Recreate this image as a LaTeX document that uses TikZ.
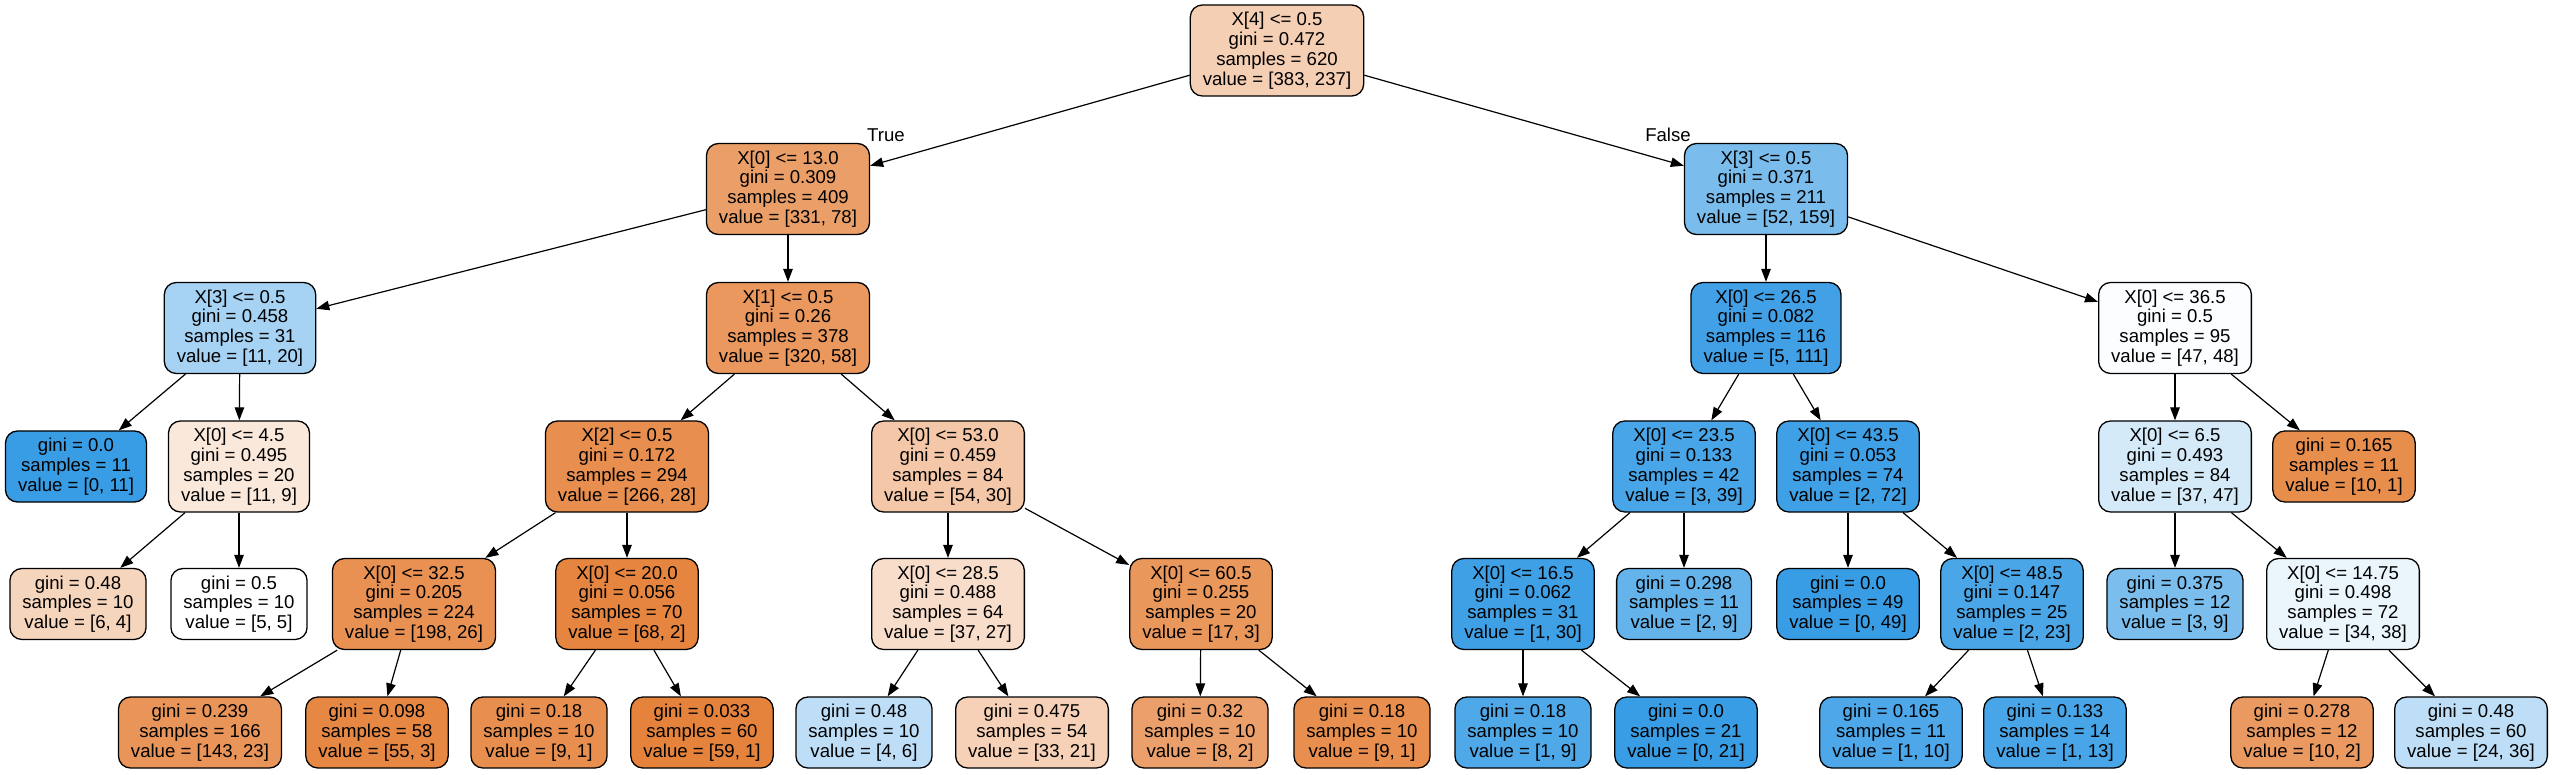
\documentclass[tikz,border=0pt]{standalone}
\usepackage{fontspec}
\setmainfont{Liberation Sans}
\usetikzlibrary{arrows.meta}
\definecolor{cO}{RGB}{229,129,57}
\definecolor{cB}{RGB}{57,157,229}
\tikzset{
  tbox/.style={draw=black, line width=1.3pt, rounded corners=12pt, align=center,
    inner xsep=12.5pt, inner ysep=2pt,
    font=\fontsize{18.6pt}{19.8pt}\selectfont},
  split/.style={tbox, minimum height=91pt},
  leaf/.style={tbox, minimum height=71pt},
  edgearrow/.style={draw=black, line width=1.2pt, -{Triangle[length=13pt,width=9.5pt]}},
  elabel/.style={font=\fontsize{18.6pt}{19.8pt}\selectfont, inner sep=0pt}
}
\begin{document}
\begin{tikzpicture}[x=1pt, y=-1pt]
\useasboundingbox[fill=white] (0,0) rectangle (2552,775);
% level 0
\node[split, fill=cO!38.1!white] (n0) at (1277,50.5) {X[4] <= 0.5\\gini = 0.472\\samples = 620\\value = [383, 237]};
% level 1
\node[split, fill=cO!76.4!white] (n1) at (788,189) {X[0] <= 13.0\\gini = 0.309\\samples = 409\\value = [331, 78]};
\node[split, fill=cB!67.3!white] (n2) at (1766,189) {X[3] <= 0.5\\gini = 0.371\\samples = 211\\value = [52, 159]};
% level 2
\node[split, fill=cB!45!white] (n3) at (240,328) {X[3] <= 0.5\\gini = 0.458\\samples = 31\\value = [11, 20]};
\node[split, fill=cO!81.9!white] (n4) at (788,328) {X[1] <= 0.5\\gini = 0.26\\samples = 378\\value = [320, 58]};
\node[split, fill=cB!95.5!white] (n5) at (1766,328) {X[0] <= 26.5\\gini = 0.082\\samples = 116\\value = [5, 111]};
\node[split, fill=cB!2.1!white] (n6) at (2175,328) {X[0] <= 36.5\\gini = 0.5\\samples = 95\\value = [47, 48]};
% level 3
\node[leaf, fill=cB] (n7) at (76,466.5) {gini = 0.0\\samples = 11\\value = [0, 11]};
\node[split, fill=cO!18.2!white] (n8) at (239,466.5) {X[0] <= 4.5\\gini = 0.495\\samples = 20\\value = [11, 9]};
\node[split, fill=cO!89.5!white] (n9) at (627,466.5) {X[2] <= 0.5\\gini = 0.172\\samples = 294\\value = [266, 28]};
\node[split, fill=cO!44.4!white] (n10) at (948,466.5) {X[0] <= 53.0\\gini = 0.459\\samples = 84\\value = [54, 30]};
\node[split, fill=cB!92.3!white] (n11) at (1684,466.5) {X[0] <= 23.5\\gini = 0.133\\samples = 42\\value = [3, 39]};
\node[split, fill=cB!97.2!white] (n12) at (1848,466.5) {X[0] <= 43.5\\gini = 0.053\\samples = 74\\value = [2, 72]};
\node[split, fill=cB!21.3!white] (n13) at (2175,466.5) {X[0] <= 6.5\\gini = 0.493\\samples = 84\\value = [37, 47]};
\node[leaf, fill=cO!90!white] (n14) at (2344,466.5) {gini = 0.165\\samples = 11\\value = [10, 1]};
% level 4
\node[leaf, fill=cO!33.3!white] (n15) at (78,604) {gini = 0.48\\samples = 10\\value = [6, 4]};
\node[leaf, fill=white] (n16) at (239,604) {gini = 0.5\\samples = 10\\value = [5, 5]};
\node[split, fill=cO!86.9!white] (n17) at (414,604) {X[0] <= 32.5\\gini = 0.205\\samples = 224\\value = [198, 26]};
\node[split, fill=cO!97.1!white] (n18) at (627,604) {X[0] <= 20.0\\gini = 0.056\\samples = 70\\value = [68, 2]};
\node[split, fill=cO!27!white] (n19) at (948,604) {X[0] <= 28.5\\gini = 0.488\\samples = 64\\value = [37, 27]};
\node[split, fill=cO!82.4!white] (n20) at (1201,604) {X[0] <= 60.5\\gini = 0.255\\samples = 20\\value = [17, 3]};
\node[split, fill=cB!96.7!white] (n21) at (1523,604) {X[0] <= 16.5\\gini = 0.062\\samples = 31\\value = [1, 30]};
\node[leaf, fill=cB!77.8!white] (n22) at (1684,604) {gini = 0.298\\samples = 11\\value = [2, 9]};
\node[leaf, fill=cB] (n23) at (1848,604) {gini = 0.0\\samples = 49\\value = [0, 49]};
\node[split, fill=cB!91.3!white] (n24) at (2012,604) {X[0] <= 48.5\\gini = 0.147\\samples = 25\\value = [2, 23]};
\node[leaf, fill=cB!66.7!white] (n25) at (2175,604) {gini = 0.375\\samples = 12\\value = [3, 9]};
\node[split, fill=cB!10.5!white] (n26) at (2343,604) {X[0] <= 14.75\\gini = 0.498\\samples = 72\\value = [34, 38]};
% level 5
\node[leaf, fill=cO!83.9!white] (n27) at (200,732.5) {gini = 0.239\\samples = 166\\value = [143, 23]};
\node[leaf, fill=cO!94.5!white] (n28) at (377,732.5) {gini = 0.098\\samples = 58\\value = [55, 3]};
\node[leaf, fill=cO!88.9!white] (n29) at (539,732.5) {gini = 0.18\\samples = 10\\value = [9, 1]};
\node[leaf, fill=cO!98.3!white] (n30) at (702,732.5) {gini = 0.033\\samples = 60\\value = [59, 1]};
\node[leaf, fill=cB!33.3!white] (n31) at (864,732.5) {gini = 0.48\\samples = 10\\value = [4, 6]};
\node[leaf, fill=cO!36.4!white] (n32) at (1032,732.5) {gini = 0.475\\samples = 54\\value = [33, 21]};
\node[leaf, fill=cO!75!white] (n33) at (1200,732.5) {gini = 0.32\\samples = 10\\value = [8, 2]};
\node[leaf, fill=cO!88.9!white] (n34) at (1362,732.5) {gini = 0.18\\samples = 10\\value = [9, 1]};
\node[leaf, fill=cB!88.9!white] (n35) at (1523,732.5) {gini = 0.18\\samples = 10\\value = [1, 9]};
\node[leaf, fill=cB] (n36) at (1686,732.5) {gini = 0.0\\samples = 21\\value = [0, 21]};
\node[leaf, fill=cB!90!white] (n37) at (1891,732.5) {gini = 0.165\\samples = 11\\value = [1, 10]};
\node[leaf, fill=cB!92.3!white] (n38) at (2055,732.5) {gini = 0.133\\samples = 14\\value = [1, 13]};
\node[leaf, fill=cO!80!white] (n39) at (2302,732.5) {gini = 0.278\\samples = 12\\value = [10, 2]};
\node[leaf, fill=cB!33.3!white] (n40) at (2471,732.5) {gini = 0.48\\samples = 60\\value = [24, 36]};
% edge labels
\node[elabel] (lblT) at (886,135) {True};
\node[elabel] (lblF) at (1668,135) {False};
% edges
\foreach \a/\b in {n0/n1,n0/n2,n1/n3,n1/n4,n2/n5,n2/n6,n3/n7,n3/n8,n4/n9,n4/n10,
  n5/n11,n5/n12,n6/n13,n6/n14,n8/n15,n8/n16,n9/n17,n9/n18,n10/n19,n10/n20,
  n11/n21,n11/n22,n12/n23,n12/n24,n13/n25,n13/n26,n17/n27,n17/n28,n18/n29,n18/n30,
  n19/n31,n19/n32,n20/n33,n20/n34,n21/n35,n21/n36,n24/n37,n24/n38,n26/n39,n26/n40}
  {\draw[edgearrow] (\a) -- (\b);}
\end{tikzpicture}
\end{document}
